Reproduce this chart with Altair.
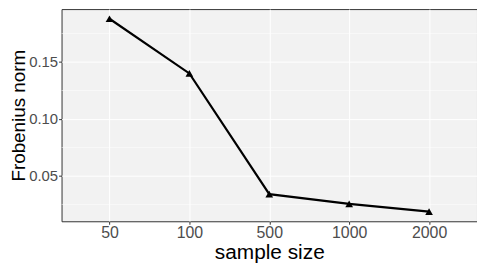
import altair as alt
import pandas as pd

sample_size = ["50", "100", "500", "1000", "2000"]
frob_norm = [0.188, 0.140, 0.034, 0.0255, 0.0187]
y_ticks = [0.05, 0.10, 0.15]
minor_breaks = [0.025, 0.075, 0.125, 0.175]

df = pd.DataFrame({"n": sample_size, "f": frob_norm})
lo, hi = min(frob_norm), max(frob_norm)
pad = 0.05 * (hi - lo)
yscale = alt.Scale(domain=[lo - pad, hi + pad], nice=False, zero=False)
xscale = alt.Scale(type="point", padding=0.6)

yaxis = alt.Axis(title="Frobenius norm", values=y_ticks, format=".2f",
                 grid=True, labelPadding=1, titlePadding=0,
                 labelFontSize=15, titleFontSize=19)
xaxis = alt.Axis(title="sample size", labelAngle=0, grid=True,
                 labelPadding=0, titlePadding=2)

minor_df = pd.DataFrame({"v": minor_breaks})
minor_rules = alt.Chart(minor_df).mark_rule(color="white", strokeWidth=0.5).encode(
    y=alt.Y("v:Q", scale=yscale, axis=yaxis)
)

base = alt.Chart(df).encode(
    x=alt.X("n:O", sort=sample_size, scale=xscale, axis=xaxis),
    y=alt.Y("f:Q", scale=yscale, axis=yaxis),
)
line = base.mark_line(color="black", strokeWidth=2.2)
pts = base.mark_point(shape="triangle-up", filled=True, color="black", size=60, opacity=1)

chart = alt.layer(minor_rules, line, pts).properties(
    width=419, height=214,
    autosize=alt.AutoSizeParams(type="none"),
    padding={"left": 54, "top": 0, "right": 0, "bottom": 42},
).configure_view(
    fill="#F2F2F2", stroke="#333333", strokeWidth=1
).configure_axis(
    labelFont="Liberation Sans", labelFontSize=16, labelColor="#4D4D4D",
    titleFont="Liberation Sans", titleFontSize=21, titleColor="black",
    titleFontWeight="normal", tickColor="#333333", tickSize=3,
    domain=False, gridColor="white", gridWidth=1
)

chart.save("out.html", embed_options={"renderer": "svg", "actions": False})
